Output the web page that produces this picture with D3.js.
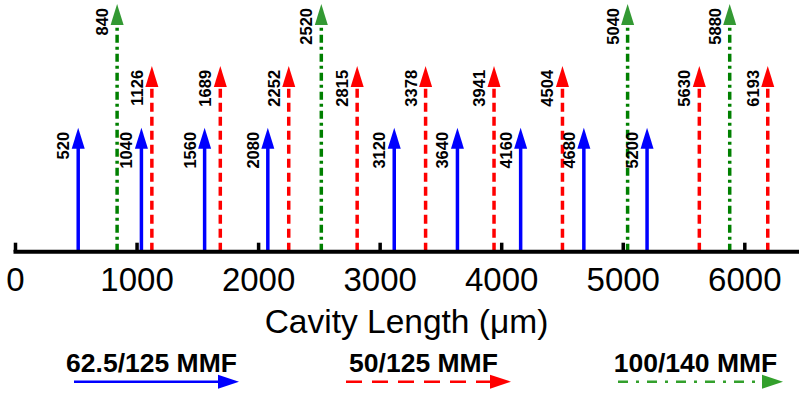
<!DOCTYPE html>
<html>
<head>
<meta charset="utf-8">
<script src="https://cdn.jsdelivr.net/npm/d3@7"></script>
<style>
  html, body { margin: 0; padding: 0; background: #fff; }
  svg { display: block; font-family: "Liberation Sans", Arial, sans-serif; }
</style>
</head>
<body>
<svg id="chart" width="799" height="393"></svg>
<script>
// ---- data ----
const seriesNames = ["62.5/125 MMF", "50/125 MMF", "100/140 MMF"];
const seriesLevels = [2, 3, 4];            // arrow height (relative units)
const blueVals  = [520, 1040, 1560, 2080, 3120, 3640, 4160, 4680, 5200];
const redVals   = [1126, 1689, 2252, 2815, 3378, 3941, 4504, 5630, 6193];
const greenVals = [840, 2520, 5040, 5880];
const tickVals  = [0, 1000, 2000, 3000, 4000, 5000, 6000];
const xTitle = "Cavity Length (\u03bcm)";

// ---- styles ----
const lineColors  = ["#0000ff", "#ff0000", "#008000"];
const headColors  = ["#0000ff", "#ff0000", "#339933"];
const legendColors = ["#0000ff", "#ff0000", "#33a02c"];
const dashes = [null, "9,5", "8,4,3,4"];
const legendDashes = [null, "16,10", "10,8,3,8"];

const series = [blueVals, redVals, greenVals].map((vals, i) => ({
  name: seriesNames[i], level: seriesLevels[i], vals,
  color: lineColors[i], head: headColors[i], dash: dashes[i],
  lcolor: legendColors[i], ldash: legendDashes[i]
}));

const svg = d3.select("#chart");
const W = 799;

const x = d3.scaleLinear().domain([0, 6000]).range([15, 744.3]);
const y = d3.scaleLinear().domain([0, 4]).range([251.7, 4]);

// ---- arrows ----
const headW = 13, headH = 21;
series.forEach(s => {
  const g = svg.append("g");
  s.vals.forEach(v => {
    const cx = x(v), tip = y(s.level), base = y(0);
    g.append("line")
      .attr("x1", cx).attr("x2", cx)
      .attr("y1", base).attr("y2", tip + headH - 1)
      .attr("stroke", s.color).attr("stroke-width", 3.5)
      .attr("stroke-dasharray", s.dash);
    g.append("path")
      .attr("d", `M${cx},${tip} L${cx - headW/2},${tip + headH} L${cx + headW/2},${tip + headH} Z`)
      .attr("fill", s.head);
  });
});

// ---- arrow labels ----
series.forEach(s => {
  s.vals.forEach(v => {
    const cx = x(v), tip = y(s.level);
    svg.append("text")
      .attr("transform", `translate(${cx - 9},${tip + 4}) rotate(-90)`)
      .attr("text-anchor", "end")
      .attr("font-weight", "bold")
      .attr("font-size", 16.5)
      .attr("fill", "#000")
      .text(v);
  });
});

// ---- axis ----
svg.append("line")
  .attr("x1", x(0) - 1.5).attr("x2", W)
  .attr("y1", y(0)).attr("y2", y(0))
  .attr("stroke", "#000").attr("stroke-width", 4);

const axis = d3.axisBottom(x).tickValues(tickVals)
  .tickSizeInner(-9).tickSizeOuter(0).tickPadding(16)
  .tickFormat(d3.format("d"));
const ax = svg.append("g").attr("transform", `translate(0,${y(0)})`).call(axis);
ax.select(".domain").remove();
ax.selectAll(".tick line").attr("stroke", "#000").attr("stroke-width", 3.5);
ax.selectAll(".tick text")
  .attr("font-size", 33).attr("fill", "#000")
  .attr("font-family", "'Liberation Sans', Arial, sans-serif");

svg.append("text")
  .attr("x", 406.5).attr("y", 333)
  .attr("text-anchor", "middle")
  .attr("font-size", 33.5).attr("fill", "#000")
  .text(xTitle);

// ---- legend ----
const legendLen = 165;
const lx = d3.scaleBand().domain(seriesNames).range([74, 74 + 3 * 272]).padding(0);
const legY = 381.7;
series.forEach(s => {
  const x0 = lx(s.name), x1 = x0 + legendLen;
  svg.append("text")
    .attr("x", x0 + legendLen / 2 - 5).attr("y", 372)
    .attr("text-anchor", "middle")
    .attr("font-weight", "bold").attr("font-size", 26.5)
    .attr("fill", "#000")
    .text(s.name);
  svg.append("line")
    .attr("x1", x0).attr("x2", x1 - 20)
    .attr("y1", legY).attr("y2", legY)
    .attr("stroke", s.lcolor).attr("stroke-width", 2.5)
    .attr("stroke-dasharray", s.ldash);
  svg.append("path")
    .attr("d", `M${x1},${legY} L${x1 - 21},${legY - 7} L${x1 - 21},${legY + 7} Z`)
    .attr("fill", s.lcolor);
});
</script>
</body>
</html>
